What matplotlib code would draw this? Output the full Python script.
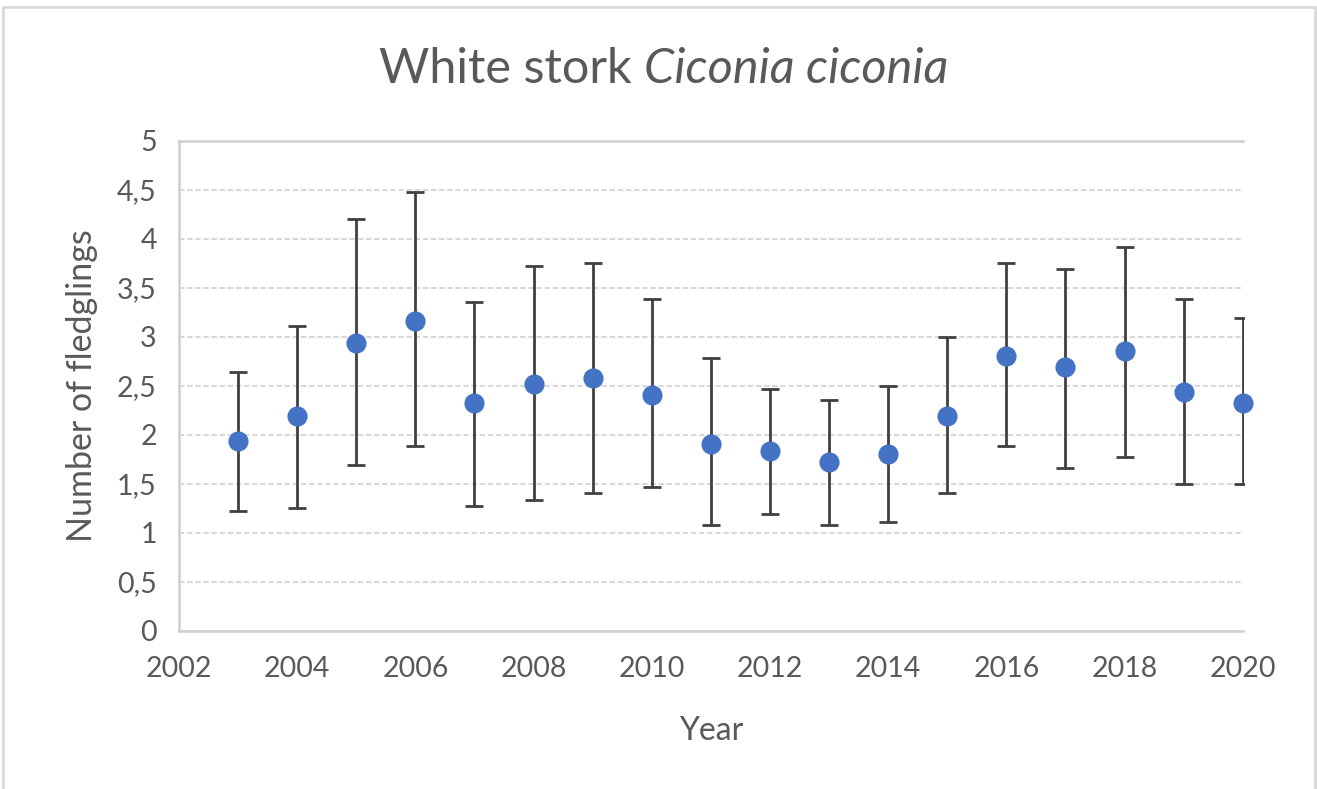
import matplotlib
matplotlib.use("Agg")
from matplotlib import pyplot as plt
from matplotlib.patches import Rectangle
from matplotlib.transforms import Bbox, TransformedBbox
import numpy as np

# data
years = [2003, 2004, 2005, 2006, 2007, 2008, 2009, 2010, 2011,
         2012, 2013, 2014, 2015, 2016, 2017, 2018, 2019, 2020]
mean_fledglings = [1.94, 2.19, 2.94, 3.16, 2.33, 2.52, 2.58, 2.41, 1.91,
                   1.83, 1.72, 1.80, 2.19, 2.80, 2.69, 2.86, 2.44, 2.33]
lower = [1.22, 1.25, 1.69, 1.89, 1.27, 1.33, 1.41, 1.47, 1.08,
         1.19, 1.08, 1.11, 1.41, 1.89, 1.66, 1.77, 1.50, 1.50]
upper = [2.64, 3.11, 4.20, 4.48, 3.36, 3.72, 3.75, 3.39, 2.78,
         2.47, 2.36, 2.50, 3.00, 3.75, 3.69, 3.92, 3.39, 3.19]
x_ticks = [2002, 2004, 2006, 2008, 2010, 2012, 2014, 2016, 2018, 2020]
y_ticks = [0, 0.5, 1, 1.5, 2, 2.5, 3, 3.5, 4, 4.5, 5]
y_tick_labels = ["0", "0,5", "1", "1,5", "2", "2,5", "3", "3,5", "4", "4,5", "5"]

text_col = "#595959"
plt.rcParams["font.family"] = ["Lato", "DejaVu Sans"]

fig = plt.figure(figsize=(13.17, 7.89), dpi=100)
ax = fig.add_axes([0.1359, 0.2006, 0.8077, 0.6207])

m = np.array(mean_fledglings)
yerr = [m - np.array(lower), np.array(upper) - m]
eb = ax.errorbar(years, m, yerr=yerr, fmt="none", ecolor="#404040",
                 elinewidth=2.0, capsize=6.5, capthick=2.0, zorder=2)
# clip the bars just past the right edge so the last bar shows half caps
clip_box = TransformedBbox(Bbox([[-0.01, -0.05], [1.0015, 1.05]]), ax.transAxes)
for art in list(eb.lines[1]) + list(eb.lines[2]):
    art.set_clip_box(clip_box)
ax.plot(years, m, "o", color="#4472C4", markersize=13.5,
        clip_on=False, zorder=3)

ax.set_xlim(2002, 2020)
ax.set_ylim(0, 5)
ax.set_xticks(x_ticks)
ax.set_yticks(y_ticks)
ax.set_yticklabels(y_tick_labels)
ax.tick_params(axis="both", length=0, labelsize=20.5, labelcolor=text_col)
ax.tick_params(axis="x", pad=18)
ax.tick_params(axis="y", pad=16)

ax.grid(axis="y", color="#d4d4d4", linewidth=1.3, linestyle=(0, (3, 1.5)))
ax.set_axisbelow(True)
for side in ["left", "bottom", "top"]:
    ax.spines[side].set_color("#cfcfcf")
    ax.spines[side].set_linewidth(1.8)
ax.spines["right"].set_visible(False)

ax.set_xlabel("Year", fontsize=23, color=text_col, labelpad=25)
ax.set_ylabel("Number of fledglings", fontsize=24.5, color=text_col, labelpad=14)

fig.text(0.489, 0.913, "White stork ", fontsize=35, color=text_col,
         ha="right", va="center")
fig.text(0.489, 0.913, "Ciconia ciconia", fontsize=35, color=text_col,
         ha="left", va="center", style="italic")

# outer chart border
fig.add_artist(Rectangle((3 / 1317, -0.05), 1312 / 1317, 1.05 - 7 / 789,
                         transform=fig.transFigure, fill=False,
                         edgecolor="#d9d9d9", linewidth=2))

fig.savefig("out.png", dpi=100)
